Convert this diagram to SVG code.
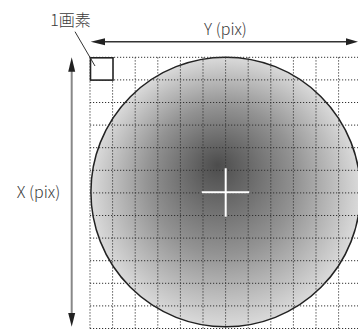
<svg xmlns="http://www.w3.org/2000/svg" width="358" height="329" viewBox="0 0 358 329">
<style>
.lbl{font-family:"Noto Sans CJK JP","Liberation Sans",sans-serif;font-size:16px;fill:#3a3a3a;font-weight:300}
.grid{stroke:#333;stroke-width:1;stroke-dasharray:1.2 1.8;fill:none}
</style>
<defs>
<radialGradient id="g" cx="0.5" cy="0.5" r="0.5" fx="0.47" fy="0.4">
<stop offset="0" stop-color="#4c4c4c"/>
<stop offset="0.55" stop-color="#939393"/>
<stop offset="1" stop-color="#dadada"/>
</radialGradient>
</defs>
<rect width="358" height="329" fill="#fff"/>
<g id="circle">
<circle cx="225.7" cy="192" r="134.8" fill="url(#g)" stroke="#222" stroke-width="1.5"/>
</g>
<g id="grid">
<path class="grid" d="M90 57.3V329M112.6 57.3V329M135.2 57.3V329M157.8 57.3V329M180.4 57.3V329M203 57.3V329M225.6 57.3V329M248.2 57.3V329M270.8 57.3V329M293.4 57.3V329M316 57.3V329M338.6 57.3V329M90 57.3H358M90 79.9H358M90 102.5H358M90 125.1H358M90 147.7H358M90 170.3H358M90 192.9H358M90 215.5H358M90 238.1H358M90 260.7H358M90 283.3H358M90 305.9H358M90 328.5H358"/>
</g>
<g id="pixel">
<rect x="90.5" y="57.8" width="22.5" height="22.3" fill="#fff" stroke="#222" stroke-width="1.6"/>
</g>
<g id="center-cross">
<path d="M201.7 192.3H249.3M225.7 168.3V216.7" stroke="#fff" stroke-width="2"/>
</g>
<g id="connectors">
<path d="M104 41.7H347" stroke="#333" stroke-width="1.5"/>
<path d="M90.7 41.7L105 38.2V45.2Z" fill="#222"/>
<path d="M358 41.7L346 38.2V45.2Z" fill="#222"/>
<path d="M71.7 70V314" stroke="#888" stroke-width="2"/>
<path d="M71.7 57.3L68.2 71.7H75.2Z" fill="#222"/>
<path d="M71.7 326.7L68.2 313H75.2Z" fill="#222"/>
<path d="M75 31.7L95 66" stroke="#333" stroke-width="1"/>
</g>
<g id="labels">
<text class="lbl" x="225.5" y="34.5" text-anchor="middle" font-size="18">Y (pix)</text>
<text class="lbl" x="38.5" y="198" text-anchor="middle" font-size="18">X (pix)</text>
<text class="lbl" x="70.5" y="25.5" text-anchor="middle">1画素</text>
</g>
</svg>
